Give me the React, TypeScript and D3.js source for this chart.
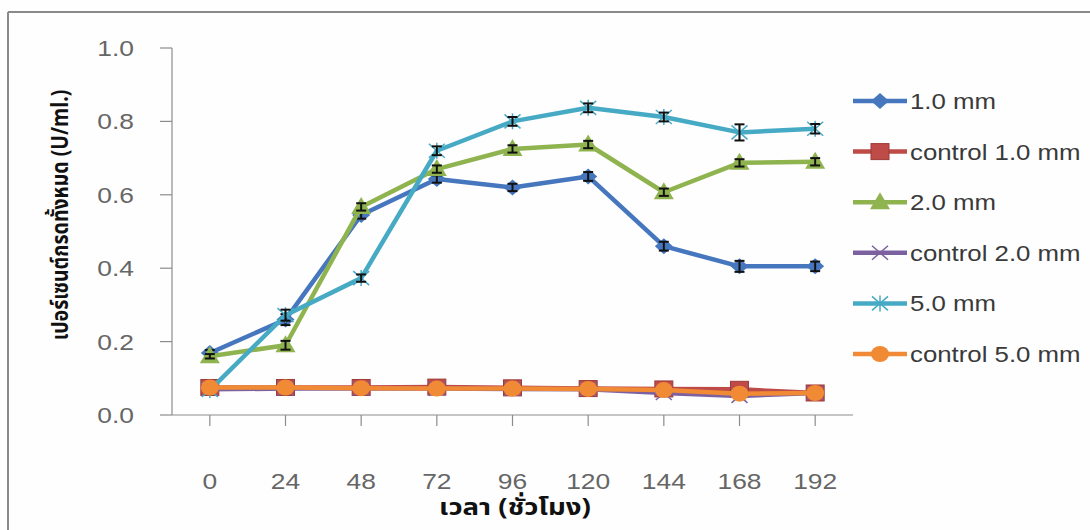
import React from "react";
import * as d3 from "d3";

const hours = ["0", "24", "48", "72", "96", "120", "144", "168", "192"];
const yTicks = [0, 0.2, 0.4, 0.6, 0.8, 1.0];

const s10 = [0.169, 0.26, 0.545, 0.643, 0.62, 0.65, 0.46, 0.405, 0.405];
const s10err = [0.008, 0.015, 0.01, 0.01, 0.01, 0.012, 0.012, 0.015, 0.013];
const c10 = [0.075, 0.075, 0.075, 0.076, 0.074, 0.072, 0.071, 0.07, 0.06];
const s20 = [0.16, 0.19, 0.567, 0.67, 0.725, 0.737, 0.607, 0.687, 0.69];
const s20err = [0.006, 0.012, 0.01, 0.01, 0.01, 0.01, 0.01, 0.01, 0.01];
const c20 = [0.07, 0.072, 0.072, 0.072, 0.071, 0.07, 0.06, 0.052, 0.06];
const s50 = [0.068, 0.272, 0.373, 0.72, 0.8, 0.837, 0.812, 0.77, 0.78];
const s50err = [0.008, 0.015, 0.01, 0.012, 0.012, 0.012, 0.012, 0.022, 0.013];
const c50 = [0.075, 0.075, 0.073, 0.072, 0.072, 0.071, 0.068, 0.058, 0.06];

const seriesNames = ["1.0 mm", "control 1.0 mm", "2.0 mm", "control 2.0 mm", "5.0 mm", "control 5.0 mm"];
const seriesColors = ["#4677be", "#be4b48", "#8fb34f", "#7d60a0", "#46aac5", "#f08a35"];

const LEFT = 172, RIGHT = 853, TOP = 48, BOTTOM = 415;
const FONT = "'Liberation Sans', Arial, sans-serif";
const THAI = "'Noto Sans Thai', 'Noto Sans', 'DejaVu Sans', sans-serif";
const SX = 1.2;

function Txt({ x, y, anchor, size, color, children, bold, family }: any) {
  return (
    <text
      transform={`translate(${x},${y}) scale(${SX},1)`}
      textAnchor={anchor || "start"}
      fontFamily={family || FONT}
      fontSize={size}
      fontWeight={bold ? "bold" : "normal"}
      fill={color}
    >
      {children}
    </text>
  );
}

function Marker({ type, x, y, color }: { type: string; x: number; y: number; color: string }) {
  if (type === "diamond") {
    const r = 8;
    return <path d={`M${x},${y - r}L${x + r + 1},${y}L${x},${y + r}L${x - r - 1},${y}Z`} fill={color} />;
  }
  if (type === "square") {
    return <rect x={x - 9} y={y - 8} width={18} height={16} fill={color} stroke="#9e3a37" strokeWidth={1} />;
  }
  if (type === "triangle") {
    return <path d={`M${x},${y - 10}L${x + 10},${y + 7}L${x - 10},${y + 7}Z`} fill={color} />;
  }
  if (type === "x") {
    return (
      <g stroke={color} strokeWidth={1.5}>
        <line x1={x - 8} y1={y - 7} x2={x + 8} y2={y + 7} />
        <line x1={x - 8} y1={y + 7} x2={x + 8} y2={y - 7} />
      </g>
    );
  }
  if (type === "star") {
    return (
      <g stroke={color} strokeWidth={1.5}>
        <line x1={x - 8} y1={y - 7} x2={x + 8} y2={y + 7} />
        <line x1={x - 8} y1={y + 7} x2={x + 8} y2={y - 7} />
        <line x1={x} y1={y - 8} x2={x} y2={y + 8} />
      </g>
    );
  }
  return <ellipse cx={x} cy={y} rx={9} ry={8} fill={color} />;
}

export default function App() {
  const x = d3.scalePoint<string>().domain(hours).range([LEFT, RIGHT]).padding(0.5);
  const y = d3.scaleLinear().domain([0, 1]).range([BOTTOM, TOP]);
  const line = d3
    .line<number>()
    .x((_, i) => x(hours[i]) as number)
    .y((d) => y(d));

  const series = [
    { vals: s10, err: s10err, marker: "diamond" },
    { vals: c10, err: null, marker: "square" },
    { vals: s20, err: s20err, marker: "triangle" },
    { vals: c20, err: null, marker: "x" },
    { vals: s50, err: s50err, marker: "star" },
    { vals: c50, err: null, marker: "circle" },
  ];

  return (
    <svg width={1090} height={530} style={{ position: "absolute", left: 0, top: 0, background: "#fefefe" }}>
      <rect x={0} y={0} width={1090} height={530} fill="#fefefe" />
      <line x1={8} y1={12} x2={1090} y2={12} stroke="#8a8a8a" strokeWidth={2} />
      <line x1={8} y1={12} x2={8} y2={530} stroke="#8a8a8a" strokeWidth={2} />

      {/* Y axis */}
      <line x1={LEFT} y1={TOP} x2={LEFT} y2={BOTTOM} stroke="#8c8c8c" strokeWidth={1.2} />
      {yTicks.map((t) => (
        <g key={t}>
          <line x1={LEFT - 12} y1={y(t)} x2={LEFT} y2={y(t)} stroke="#8c8c8c" strokeWidth={1.2} />
          <Txt x={134} y={y(t) + 8} anchor="end" size={22} color="#666">
            {t.toFixed(1)}
          </Txt>
        </g>
      ))}

      {/* X axis */}
      <line x1={LEFT} y1={BOTTOM} x2={RIGHT} y2={BOTTOM} stroke="#8c8c8c" strokeWidth={1.2} />
      {hours.map((h) => (
        <g key={h}>
          <line x1={x(h)} y1={BOTTOM} x2={x(h)} y2={BOTTOM + 11} stroke="#8c8c8c" strokeWidth={1.2} />
          <Txt x={x(h)} y={489} anchor="middle" size={22} color="#666">
            {h}
          </Txt>
        </g>
      ))}

      {/* Series */}
      {series.map((s, si) => (
        <g key={si}>
          <path d={line(s.vals) || ""} fill="none" stroke={seriesColors[si]} strokeWidth={4.5} strokeLinejoin="round" />
          {s.vals.map((v, i) => (
            <Marker key={i} type={s.marker} x={x(hours[i]) as number} y={y(v)} color={seriesColors[si]} />
          ))}
          {s.err &&
            s.vals.map((v, i) => {
              const cx = x(hours[i]) as number;
              const e = (s.err as number[])[i];
              return (
                <g key={"e" + i} stroke="#111" strokeWidth={2}>
                  <line x1={cx} y1={y(v + e)} x2={cx} y2={y(v - e)} />
                  <line x1={cx - 5} y1={y(v + e)} x2={cx + 5} y2={y(v + e)} />
                  <line x1={cx - 5} y1={y(v - e)} x2={cx + 5} y2={y(v - e)} />
                </g>
              );
            })}
        </g>
      ))}

      {/* Legend */}
      {seriesNames.map((n, i) => {
        const ly = 101 + i * 50.6;
        return (
          <g key={n}>
            <line x1={853} y1={ly} x2={907} y2={ly} stroke={seriesColors[i]} strokeWidth={4.5} />
            <Marker type={series[i].marker} x={880} y={ly} color={seriesColors[i]} />
            <Txt x={910} y={ly + 8} size={21.5} color="#3a3a3a">
              {n}
            </Txt>
          </g>
        );
      })}

      {/* Axis titles */}
      <text
        transform={`translate(68,215) scale(${SX},1) rotate(-90)`}
        textAnchor="middle"
        fontFamily={THAI}
        fontWeight="bold"
        fontSize={19.5}
        fill="#111"
      >
        เปอร์เซนต์กรดทั้งหมด (U/ml.)
      </text>
      <Txt x={515} y={515} anchor="middle" size={23} bold color="#111" family={THAI}>
        เวลา (ชั่วโมง)
      </Txt>
    </svg>
  );
}
